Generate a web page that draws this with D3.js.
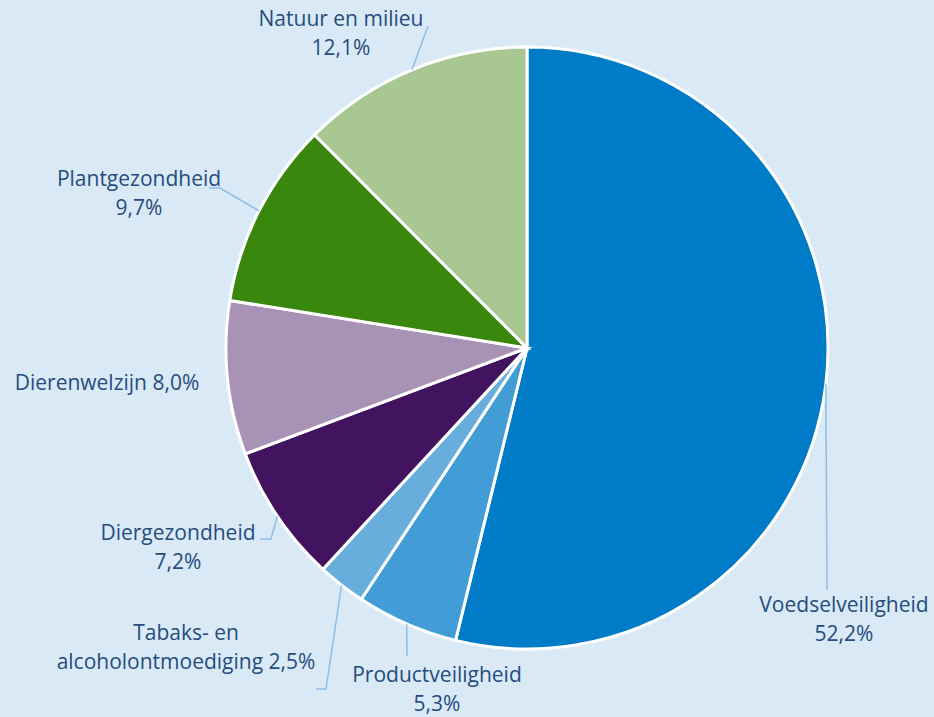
<!DOCTYPE html>
<html>
<head>
	<meta charset="utf-8">
	<title>verdeling</title>
	<style>
		html, body{
			margin:0;
			padding:0;
			background:#d9eaf6;
		}
		text{
			font-family: "Open Sans", sans-serif;
			font-size:21px;
			fill:#264c7e;
		}
		.slice{
			stroke:#ffffff;
			stroke-width:3px;
		}
		.leader{
			fill:none;
			stroke:#8fbde9;
			stroke-width:1.5px;
		}
	</style>
	<script src="https://d3js.org/d3.v7.min.js"></script>
</head>
<body>
<svg width="934" height="717"></svg>
<script>

	// data, clockwise from 12 o'clock
	var categories = ["Voedselveiligheid", "Productveiligheid", "Tabaks- en alcoholontmoediging",
	                  "Diergezondheid", "Dierenwelzijn", "Plantgezondheid", "Natuur en milieu"];
	var values = [52.2, 5.3, 2.5, 7.2, 8.0, 9.7, 12.1];
	var labelLines = [
		["Voedselveiligheid", "52,2%"],
		["Productveiligheid", "5,3%"],
		["Tabaks- en", "alcoholontmoediging 2,5%"],
		["Diergezondheid", "7,2%"],
		["Dierenwelzijn 8,0%"],
		["Plantgezondheid", "9,7%"],
		["Natuur en milieu", "12,1%"]
	];
	var colors = ["#007bc7", "#429dd6", "#68aedd", "#42145f", "#a892b5", "#39870c", "#a8c793"];

	var svg = d3.select("svg"),
	    cx = 527,
	    cy = 348,
	    radius = 301,
	    lineHeight = 29;

	// label placement (centre x, first baseline) and leader bends
	var labelPos = [
		{x:844, y:612, leader:[[827,590]]},
		{x:437, y:682, leader:[[407,656]]},
		{x:186, y:640, leader:[[326,689],[316,689]]},
		{x:178, y:540, leader:[[271,539],[260,539]]},
		{x:107, y:390, leader:null},
		{x:139, y:186, leader:[[220,188],[209,188]]},
		{x:341, y:26,  leader:[[428,26]]}
	];

	var pie = d3.pie().sort(null).value(function(d){return d;});
	var arcs = pie(values);

	var arc = d3.arc().innerRadius(0).outerRadius(radius);
	var edge = d3.arc().innerRadius(radius).outerRadius(radius);

	var g = svg.append("g")
	           .attr("transform","translate("+cx+","+cy+")");

	g.selectAll(".slice")
	 .data(arcs)
	 .enter().append("path")
	 .attr("class","slice")
	 .attr("d",arc)
	 .attr("fill",function(d,i){return colors[i];});

	// leader lines from the slice edge to the label
	var line = d3.line();
	arcs.forEach(function(d,i){
		var lp = labelPos[i];
		if(!lp.leader) return;
		var start = edge.centroid(d);
		var pts = [[start[0]+cx, start[1]+cy]].concat(lp.leader);
		svg.append("path")
		   .attr("class","leader")
		   .attr("d",line(pts));
	});

	var labels = svg.selectAll(".label")
	                .data(labelLines)
	                .enter().append("text")
	                .attr("class","label")
	                .attr("text-anchor","middle")
	                .attr("x",function(d,i){return labelPos[i].x;})
	                .attr("y",function(d,i){return labelPos[i].y;});

	labels.selectAll("tspan")
	      .data(function(d,i){return d.map(function(t){return {t:t, i:i};});})
	      .enter().append("tspan")
	      .attr("x",function(d){return labelPos[d.i].x;})
	      .attr("dy",function(d,j){return j===0 ? 0 : lineHeight;})
	      .text(function(d){return d.t;});

</script>
</body>
</html>
